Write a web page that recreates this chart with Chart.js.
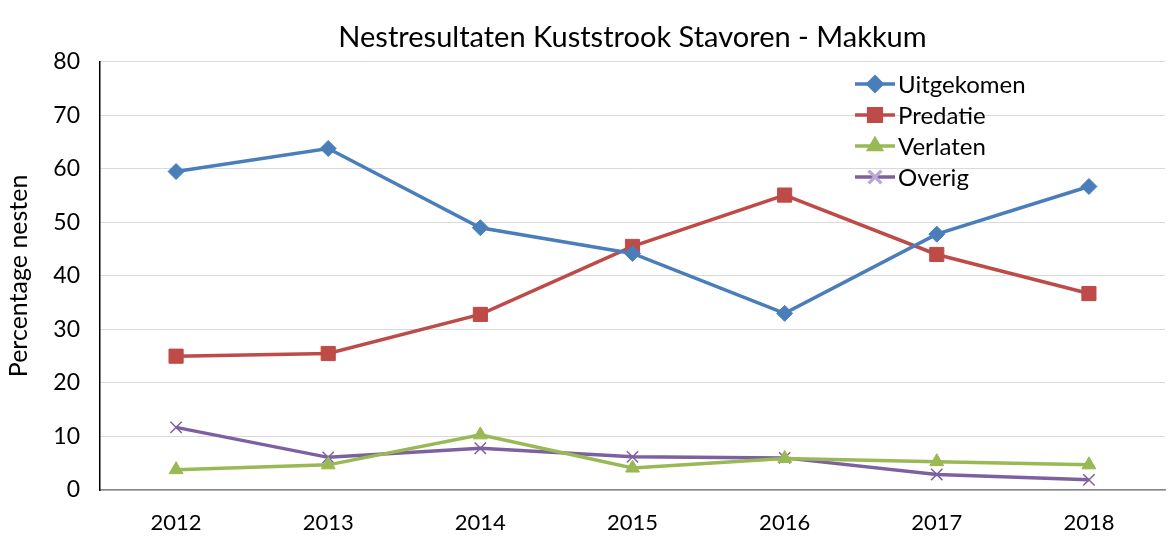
<!DOCTYPE html>
<html>
<head>
<meta charset="utf-8">
<script src="https://cdn.jsdelivr.net/npm/chart.js@4.4.0/dist/chart.umd.min.js"></script>
<style>
  body { margin: 0; background: #fff; }
  #wrap { width: 1176px; height: 537px; }
</style>
</head>
<body>
<div id="wrap"><canvas id="chart" width="1176" height="537"></canvas></div>
<script>
// Chart data
const years = ['2012', '2013', '2014', '2015', '2016', '2017', '2018'];
const uitgekomen = [59.5, 63.8, 49.0, 44.2, 33.0, 47.8, 56.7];
const predatie = [25.0, 25.5, 32.8, 45.5, 55.1, 44.0, 36.7];
const verlaten = [3.8, 4.7, 10.3, 4.1, 5.9, 5.3, 4.7];
const overig = [11.7, 6.1, 7.8, 6.2, 6.0, 2.9, 1.9];
const yTicks = [0, 10, 20, 30, 40, 50, 60, 70, 80];

const fontFamily = "Lato, 'Noto Sans', sans-serif";

const series = [
  { label: 'Uitgekomen', data: uitgekomen, color: '#4A7EBB', style: 'rectRot', radius: 8 },
  { label: 'Predatie', data: predatie, color: '#BE4B48', style: 'rect', radius: 10 },
  { label: 'Verlaten', data: verlaten, color: '#98B954', style: 'triangle', radius: 8 },
  { label: 'Overig', data: overig, color: '#7D60A0', style: 'crossRot', radius: 8 }
];

// Legend drawn inside the plot area, top right
const insideLegend = {
  id: 'insideLegend',
  afterDraw(chart) {
    const ctx = chart.ctx;
    const x0 = 855, y0 = 84, step = 31;
    ctx.save();
    series.forEach((s, i) => {
      const y = y0 + i * step;
      ctx.strokeStyle = s.color;
      ctx.lineWidth = 3.5;
      ctx.beginPath();
      ctx.moveTo(x0, y);
      ctx.lineTo(x0 + 40, y);
      ctx.stroke();
      ctx.fillStyle = s.color;
      ctx.strokeStyle = s.style === 'crossRot' ? '#b9a9d6' : s.color;
      Chart.helpers.drawPoint(ctx, {
        pointStyle: s.style,
        radius: s.style === 'crossRot' ? 9 : s.radius - 1,
        borderWidth: 1
      }, x0 + 20, y);
      ctx.fillStyle = '#000';
      ctx.font = '24px ' + fontFamily;
      ctx.textBaseline = 'middle';
      ctx.fillText(s.label, x0 + 43, y + 1);
    });
    ctx.restore();
  }
};

new Chart(document.getElementById('chart'), {
  type: 'line',
  data: {
    labels: years,
    datasets: series.map(s => ({
      label: s.label,
      data: s.data,
      borderColor: s.color,
      backgroundColor: s.color,
      borderWidth: 3.5,
      pointStyle: s.style,
      pointRadius: s.radius,
      pointBorderWidth: s.style === 'crossRot' ? 1.5 : 1,
      pointBorderColor: s.color,
      tension: 0
    }))
  },
  options: {
    responsive: false,
    animation: false,
    layout: { padding: { left: 0, right: 8, top: 0, bottom: 0 } },
    plugins: {
      legend: { display: false },
      tooltip: { enabled: false },
      title: {
        display: true,
        fullSize: false,
        text: 'Nestresultaten Kuststrook Stavoren - Makkum',
        color: '#000',
        font: { family: fontFamily, size: 29, weight: 'normal' },
        padding: { top: 20, bottom: 7 }
      }
    },
    scales: {
      x: {
        offset: true,
        grid: { display: false, drawTicks: false },
        border: { color: '#868686', width: 1.5 },
        ticks: { color: '#000', padding: 20, font: { family: fontFamily, size: 22 } },
        afterFit(scale) { scale.height = 47; }
      },
      y: {
        min: 0,
        max: 80,
        afterBuildTicks(scale) { scale.ticks = yTicks.map(v => ({ value: v })); },
        grid: { color: '#d9d9d9', drawTicks: false },
        border: { color: '#000', width: 1.5 },
        ticks: { color: '#000', padding: 20, font: { family: fontFamily, size: 23 } },
        title: {
          display: true,
          text: 'Percentage nesten',
          color: '#000',
          font: { family: fontFamily, size: 25 },
          padding: { top: 4, bottom: 4 }
        },
        afterFit(scale) { scale.width = 100; }
      }
    }
  },
  plugins: [insideLegend]
});
</script>
</body>
</html>
